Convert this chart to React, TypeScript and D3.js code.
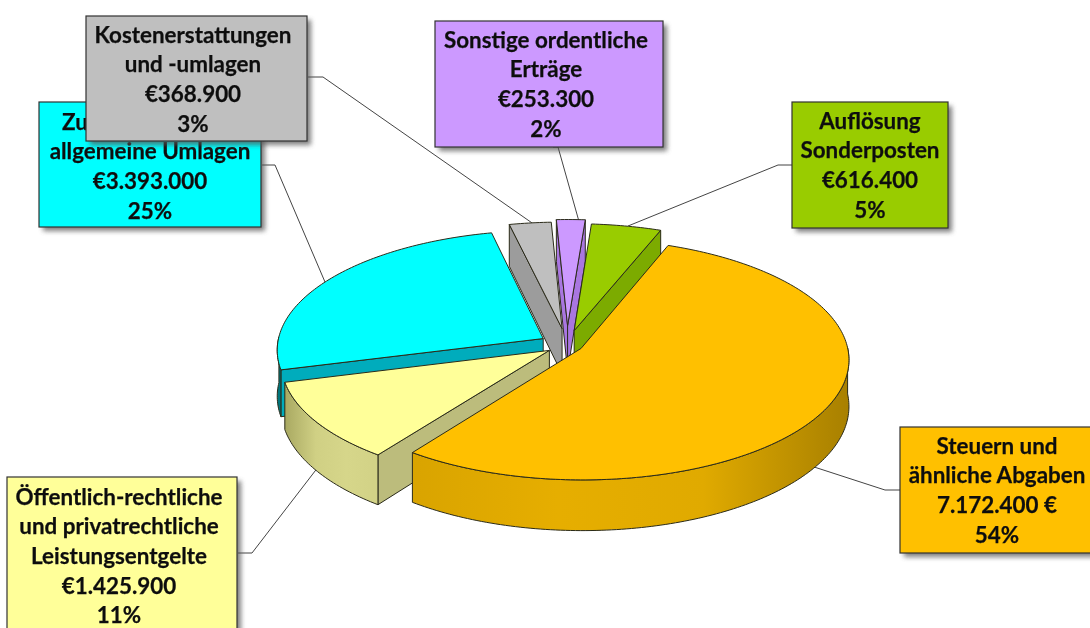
import React from "react";
import * as d3 from "d3";

const categories = [
  "Steuern und ähnliche Abgaben",
  "Öffentlich-rechtliche und privatrechtliche Leistungsentgelte",
  "Zuweisungen und allgemeine Umlagen",
  "Kostenerstattungen und -umlagen",
  "Sonstige ordentliche Erträge",
  "Auflösung Sonderposten",
];
const values = [7172400, 1425900, 3393000, 368900, 253300, 616400];
const explode = [0.06, 0.08, 0.105, 0.14, 0.165, 0.125];
const topColors = ["#ffc000", "#ffff99", "#00ffff", "#bfbfbf", "#cc99ff", "#99cc00"];
const cutColors = ["#c89a00", "#bcbc7c", "#00acbc", "#9c9c9c", "#a976e0", "#7cab00"];
const wallStops = [
  ["#d9a400", "#e6ae00", "#e0aa00", "#a88000"],
  ["#a9a962", "#d0d084", "#d6d68a", "#d2d286"],
  ["#006a70", "#00757c", "#00757c", "#00757c"],
  ["#8f8f8f", "#999999", "#999999", "#999999"],
  ["#a070d0", "#a070d0", "#a070d0", "#a070d0"],
  ["#7aa300", "#7aa300", "#7aa300", "#7aa300"],
];

const labelLines = [
  ["Steuern und", "ähnliche Abgaben", "7.172.400 €", "54%"],
  ["Öffentlich-rechtliche", "und privatrechtliche", "Leistungsentgelte", "€1.425.900", "11%"],
  ["Zuweisungen und", "allgemeine Umlagen", "€3.393.000", "25%"],
  ["Kostenerstattungen", "und -umlagen", "€368.900", "3%"],
  ["Sonstige ordentliche", "Erträge", "€253.300", "2%"],
  ["Auflösung", "Sonderposten", "€616.400", "5%"],
];

const W = 1090;
const H = 628;
const CX = 567;
const CY = 345;
const R = 266;
const RY = 119;
const K = 0.09;
const DEPTH = 46;
const START = (21 * Math.PI) / 180;

// Label boxes: x, y, w, h, first line centre, leader polyline.
const boxes = [
  { x: 900, y: 427, w: 200, h: 126, cx: 997, ty: 446, leader: [[900, 490], [885, 490], [808, 465]] },
  { x: 7, y: 477, w: 230, h: 160, cx: 119, ty: 497, leader: [[238, 553], [252, 553], [322, 462]] },
  { x: 39, y: 102, w: 222, h: 125, cx: 150, ty: 122, leader: [[262, 165], [275, 165], [325, 282]] },
  { x: 86, y: 16, w: 221, h: 125, cx: 193, ty: 35, leader: [[308, 77], [323, 77], [535, 225]] },
  { x: 435, y: 21, w: 228, h: 126, cx: 546, ty: 40, leader: [[553, 147], [558, 147], [580, 225]] },
  { x: 792, y: 102, w: 156, h: 126, cx: 870, ty: 121, leader: [[792, 165], [778, 165], [628, 226]] },
];
const drawOrder = [3, 4, 5, 2, 1, 0];

type P = [number, number];
const project = (X: number, Z: number, h = 0): P => {
  const s = 1 / (1 - K * Z);
  return [CX + X * R * s, CY + Z * RY * s + h * s];
};
const pathOf = d3.line<P>();
const close = (pts: P[]) => (pathOf(pts) as string) + "Z";

const arcs = d3
  .pie<number>()
  .sort(null)
  .startAngle(START)
  .endAngle(START + 2 * Math.PI)(values);

function Slice({ i }: { i: number }) {
  const a = arcs[i];
  const mid = (a.startAngle + a.endAngle) / 2;
  const ex = Math.sin(mid) * explode[i];
  const ez = -Math.cos(mid) * explode[i];
  const n = Math.max(2, Math.ceil(((a.endAngle - a.startAngle) * 180) / Math.PI));
  const thetas = d3.range(n + 1).map((k) => a.startAngle + ((a.endAngle - a.startAngle) * k) / n);
  const rim = (t: number, h = 0) => project(ex + Math.sin(t), ez - Math.cos(t), h);
  const apex = (h = 0) => project(ex, ez, h);
  const top: P[] = [apex(), ...thetas.map((t) => rim(t))];

  const quad = (p: P, q: P, ph: P, qh: P) => close([p, q, qh, ph]);
  const first = thetas[0];
  const last = thetas[n];
  const cuts: string[] = [];
  if (rim(first)[0] < apex()[0]) cuts.push(quad(apex(), rim(first), apex(DEPTH), rim(first, DEPTH)));
  if (apex()[0] < rim(last)[0]) cuts.push(quad(rim(last), apex(), rim(last, DEPTH), apex(DEPTH)));

  const front = thetas.filter((t) => Math.cos(t) <= 0.02);
  const wall =
    front.length > 1 ? close([...front.map((t) => rim(t)), ...front.slice().reverse().map((t) => rim(t, DEPTH))]) : null;

  return (
    <g stroke="#2b2b1a" strokeWidth={1} strokeLinejoin="round">
      {cuts.map((d, k) => (
        <path key={k} d={d} fill={cutColors[i]} />
      ))}
      {wall && <path d={wall} fill={`url(#wall${i})`} />}
      <path d={close(top)} fill={topColors[i]} />
    </g>
  );
}

export default function App() {
  return (
    <svg
      width={W}
      height={H}
      viewBox={`0 0 ${W} ${H}`}
      style={{ position: "absolute", left: 0, top: 0, display: "block", background: "#fff" }}
    >
      <defs>
        <filter id="shadow" x="-10%" y="-10%" width="125%" height="125%">
          <feGaussianBlur stdDeviation="2.5" />
        </filter>
        <filter id="soft" x="-5%" y="-5%" width="110%" height="110%">
          <feGaussianBlur stdDeviation="0.45" />
        </filter>
        {wallStops.map((stops, i) => (
          <linearGradient key={i} id={`wall${i}`} gradientUnits="objectBoundingBox" x1="0" x2="1" y1="0" y2="0">
            {stops.map((c, k) => (
              <stop key={k} offset={`${(k * 100) / (stops.length - 1)}%`} stopColor={c} />
            ))}
          </linearGradient>
        ))}
      </defs>
      <g filter="url(#soft)">
        <g fill="none" stroke="#444" strokeWidth={1}>
          {boxes.map((b, i) => (
            <path key={i} d={pathOf(b.leader as P[]) as string} />
          ))}
        </g>
        {drawOrder.map((i) => (
          <Slice key={i} i={i} />
        ))}
        {[2, 3, 4, 5, 0, 1].map((i) => {
          const b = boxes[i];
          return (
            <g key={i}>
              <rect x={b.x + 4} y={b.y + 4} width={b.w} height={b.h} fill="#555" opacity={0.75} filter="url(#shadow)" />
              <rect x={b.x} y={b.y} width={b.w} height={b.h} fill={topColors[i]} stroke="#333" strokeWidth={1.2} />
              <text
                textAnchor="middle"
                fontFamily="Lato, 'Open Sans', sans-serif"
                fontWeight={700}
                fontSize={22.4}
                stroke="#111"
                strokeWidth={0.25}
                fill="#111"
              >
                {labelLines[i].map((line, k) => (
                  <tspan key={k} x={b.cx} y={b.ty + k * 29.6} dy="0.35em">
                    {line}
                  </tspan>
                ))}
              </text>
              <title>{categories[i]}</title>
            </g>
          );
        })}
      </g>
    </svg>
  );
}
